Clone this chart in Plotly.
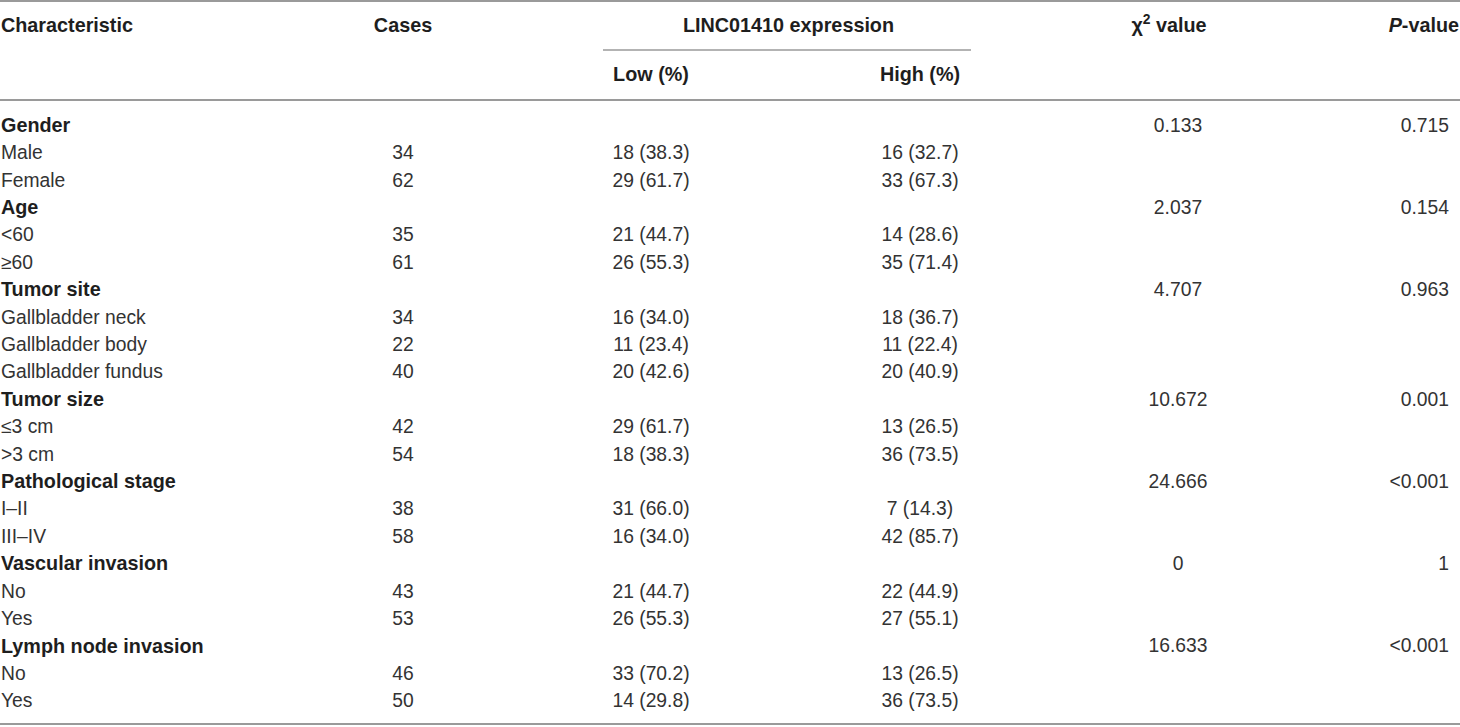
import plotly.graph_objects as go

# ---------------- data ----------------
characteristic = ["Gender", "Male", "Female", "Age", "&lt;60", "≥60", "Tumor site",
                  "Gallbladder neck", "Gallbladder body", "Gallbladder fundus",
                  "Tumor size", "≤3 cm", "&gt;3 cm", "Pathological stage", "I–II", "III–IV",
                  "Vascular invasion", "No", "Yes", "Lymph node invasion", "No", "Yes"]
is_group = [True, False, False, True, False, False, True, False, False, False,
            True, False, False, True, False, False, True, False, False, True, False, False]
cases = ["", "34", "62", "", "35", "61", "", "34", "22", "40", "", "42", "54",
         "", "38", "58", "", "43", "53", "", "46", "50"]
low_pct = ["", "18 (38.3)", "29 (61.7)", "", "21 (44.7)", "26 (55.3)", "",
           "16 (34.0)", "11 (23.4)", "20 (42.6)", "", "29 (61.7)", "18 (38.3)", "",
           "31 (66.0)", "16 (34.0)", "", "21 (44.7)", "26 (55.3)", "", "33 (70.2)", "14 (29.8)"]
high_pct = ["", "16 (32.7)", "33 (67.3)", "", "14 (28.6)", "35 (71.4)", "",
            "18 (36.7)", "11 (22.4)", "20 (40.9)", "", "13 (26.5)", "36 (73.5)", "",
            "7 (14.3)", "42 (85.7)", "", "22 (44.9)", "27 (55.1)", "", "13 (26.5)", "36 (73.5)"]
chi2 = ["0.133", "", "", "2.037", "", "", "4.707", "", "", "", "10.672", "", "",
        "24.666", "", "", "0", "", "", "16.633", "", ""]
p_value = ["0.715", "", "", "0.154", "", "", "0.963", "", "", "", "0.001", "", "",
           "&lt;0.001", "", "", "1", "", "", "&lt;0.001", "", ""]

header_main = ["Characteristic", "Cases", "LINC01410 expression", "χ<sup>2</sup> value", "<i>P</i>-value"]
header_sub = ["Low (%)", "High (%)"]

# ---------------- layout constants ----------------
W, H = 1460, 727
FONT = "Liberation Sans, Arial, Helvetica, sans-serif"
FS = 19.3       # regular text
FSB = 19.8      # bold text
TXT = "#333333"
TXTB = "#1e1e1e"
LINE = "#9a9a9a"

row_y0, row_dy = 127, 27.4
ys = [row_y0 + i * row_dy for i in range(len(characteristic))]

x_char, x_cases, x_low, x_high, x_chi, x_p = 1, 403, 651, 920, 1178, 1447
y_h1, y_h2 = 27, 76

fig = go.Figure()


def col(x, y, text, pos, bold=False):
    t = [f"<b>{s}</b>" if (bold and s) else s for s in text]
    fig.add_trace(go.Scatter(x=[x] * len(y), y=y, mode="text", text=t,
                             textposition=pos, hoverinfo="skip", showlegend=False,
                             cliponaxis=False,
                             textfont=dict(family=FONT, size=FSB if bold else FS,
                                           color=TXTB if bold else TXT)))


# body: characteristic column split into group labels (bold) and items
grp_y = [y for y, g in zip(ys, is_group) if g]
grp_t = [t for t, g in zip(characteristic, is_group) if g]
itm_y = [y for y, g in zip(ys, is_group) if not g]
itm_t = [t for t, g in zip(characteristic, is_group) if not g]
col(x_char, grp_y, grp_t, "middle right", bold=True)
col(x_char, itm_y, itm_t, "middle right")
col(x_cases, ys, cases, "middle center")
col(x_low, ys, low_pct, "middle center")
col(x_high, ys, high_pct, "middle center")
col(x_chi, ys, chi2, "middle center")
col(x_p + 2, ys, p_value, "middle left")

# headers
col(x_char, [y_h1], [header_main[0]], "middle right", bold=True)
col(x_cases, [y_h1], [header_main[1]], "middle center", bold=True)
col((x_low + x_high) / 2 + 3, [y_h1], [header_main[2]], "middle center", bold=True)
col(x_chi - 9, [y_h1], [header_main[3]], "middle center", bold=True)
col(x_p + 12, [y_h1], [header_main[4]], "middle left", bold=True)
col(x_low, [y_h2], [header_sub[0]], "middle center", bold=True)
col(x_high, [y_h2], [header_sub[1]], "middle center", bold=True)

# rules
for (x0, x1, y, w) in [(0, W, 1, 1.8), (603, 971, 50, 1.3), (0, W, 100, 1.8), (0, W, 724, 2)]:
    fig.add_shape(type="line", x0=x0, x1=x1, y0=y, y1=y, xref="x", yref="y",
                  line=dict(color=LINE, width=w))

fig.update_layout(width=W, height=H, margin=dict(l=0, r=0, t=0, b=0),
                  paper_bgcolor="white", plot_bgcolor="white",
                  xaxis=dict(range=[0, W], visible=False, fixedrange=True),
                  yaxis=dict(range=[H, 0], visible=False, fixedrange=True))

fig.write_html("out.html", config={"displayModeBar": False},
               post_script="document.body.style.margin='0';document.body.style.overflow='hidden';")
